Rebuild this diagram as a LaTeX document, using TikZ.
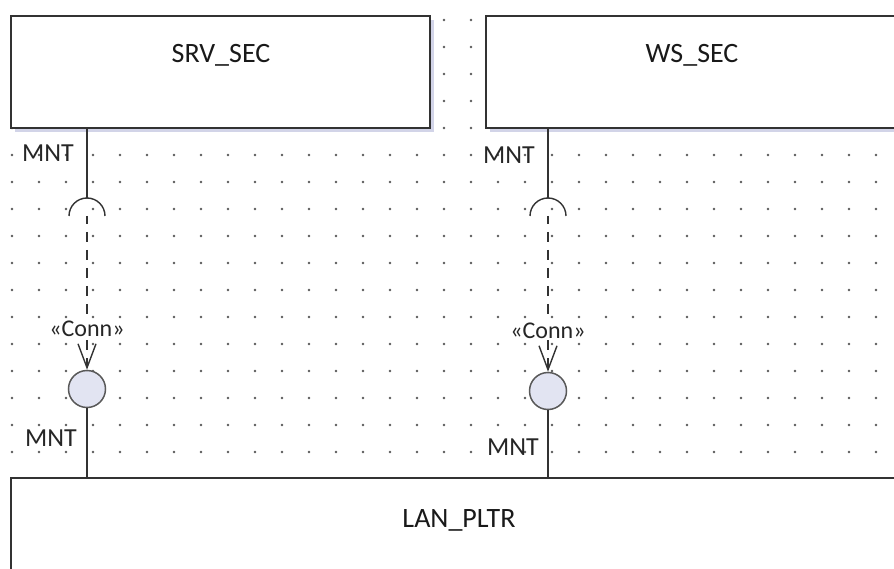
\documentclass[tikz,border=0pt]{standalone}
\usepackage{fontspec}
\setmainfont{Carlito}
\usetikzlibrary{arrows.meta,shadows}
\definecolor{lineg}{RGB}{50,50,50}
\definecolor{ballfill}{RGB}{226,228,242}
\definecolor{shadowc}{RGB}{210,212,232}
\tikzstyle{block} = [rectangle, draw=lineg, line width=2pt, fill=white, inner sep=0pt, drop shadow={shadow xshift=4pt, shadow yshift=-4pt, fill=shadowc, opacity=1}]
\tikzstyle{title} = [font=\fontsize{28}{32}\selectfont, text=black!90]
\tikzstyle{port} = [font=\fontsize{26}{30}\selectfont, text=black!85, anchor=east, inner sep=0pt]
\tikzstyle{ball} = [circle, minimum size=37pt, inner sep=0pt, draw=gray!70!black, line width=1.5pt, fill=ballfill]
\tikzstyle{wire} = [draw=lineg, line width=1.4pt]
\tikzstyle{dep} = [wire, dash pattern=on 10pt off 8pt, dash phase=2pt, -{Straight Barb[length=24pt,width=18pt]}]
\tikzstyle{conn} = [font=\fontsize{24}{28}\selectfont, fill=white, inner sep=1pt, text=black!85]

\begin{document}
\begin{tikzpicture}[x=1pt, y=-1pt]
	\useasboundingbox (0,0) rectangle (894,569);
	\clip (0,0) rectangle (894,569);
	% dot grid
	\foreach \gx in {0,...,32}
		\foreach \gy in {0,...,17}
			\fill[black!65] (12+27*\gx, 20+27*\gy) circle (1.3pt);
	% parts
	\node[block, minimum width=419pt, minimum height=112pt] (srv) at (220.5,72) {};
	\node[block, minimum width=419pt, minimum height=112pt] (ws) at (695.5,72) {};
	\node[block, minimum width=896pt, minimum height=122pt] (lan) at (459,539) {};
	\node[title] (srvname) at (221,55) {SRV\_SEC};
	\node[title] (wsname) at (692,55) {WS\_SEC};
	\node[title] (lanname) at (459,520) {LAN\_PLTR};
	% ports and sockets
	\coordinate (srvport) at (87,128);
	\coordinate (srvtop) at (87,198);
	\coordinate (srvsock) at (87,216);
	\coordinate (srvlan) at (87,478);
	\coordinate (wsport) at (548,128);
	\coordinate (wstop) at (548,198);
	\coordinate (wssock) at (548,216);
	\coordinate (wslan) at (548,478);
	\node[ball] (srvball) at (87,389) {};
	\node[ball] (wsball) at (548,391) {};
	\node[port] (srvmnt) at (74,153) {MNT};
	\node[port] (wsmnt) at (535,155) {MNT};
	\node[port] (lanmnt1) at (77,438) {MNT};
	\node[port] (lanmnt2) at (539,447) {MNT};
	% SRV_SEC side
	\draw[wire] (srvport) -- (srvtop);
	\draw[wire] (srvsock) ++(-18,0) arc[start angle=180, end angle=360, radius=18];
	\draw[dep] (srvsock) -- node[conn, pos=0.735] (srvconn) {«Conn»} (srvball);
	\draw[wire] (srvball) -- (srvlan);
	% WS_SEC side
	\draw[wire] (wsport) -- (wstop);
	\draw[wire] (wssock) ++(-18,0) arc[start angle=180, end angle=360, radius=18];
	\draw[dep] (wssock) -- node[conn, pos=0.735] (wsconn) {«Conn»} (wsball);
	\draw[wire] (wsball) -- (wslan);
\end{tikzpicture}
\end{document}
